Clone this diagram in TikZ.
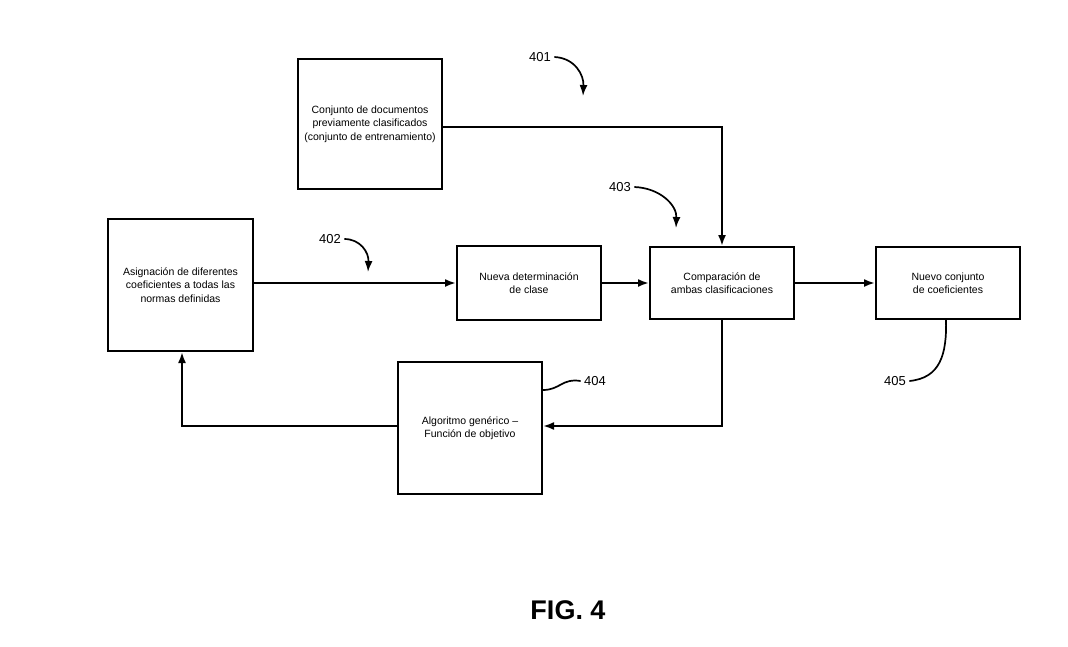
\documentclass[tikz,border=0pt]{standalone}
\usepackage{fontspec}
\setmainfont{Liberation Sans}
\usetikzlibrary{arrows.meta}
\begin{document}
\begin{tikzpicture}[x=1pt,y=-1pt,
  blk/.style={draw,line width=2pt,minimum width=144pt,align=center,font=\fontsize{10.5}{13.5}\selectfont,inner sep=0pt},
  conn/.style={line width=2pt,-{Latex[length=11pt,width=8pt]}},
  lead/.style={line width=1.7pt},
  ref/.style={font=\fontsize{13}{15}\selectfont}]
\useasboundingbox (0,0) rectangle (1068,646);
\node[blk,minimum height=130pt] (A) at (370,124) {Conjunto de documentos\\previamente clasificados\\(conjunto de entrenamiento)};
\node[blk,minimum height=132pt,minimum width=145pt] (B) at (180.5,285) {Asignación de diferentes\\coeficientes a todas las\\normas definidas};
\node[blk,minimum height=74pt] (C) at (529,283) {Nueva determinación\\de clase};
\node[blk,minimum height=72pt] (D) at (722,283) {Comparación de\\ambas clasificaciones};
\node[blk,minimum height=72pt] (E) at (948,283) {Nuevo conjunto\\de coeficientes};
\node[blk,minimum height=132pt] (F) at (470,428) {Algoritmo genérico –\\Función de objetivo};
\draw[conn] (A.east |- 0,127) -| (D.north);
\draw[conn] (B.east |- C.west) -- (C.west);
\draw[conn] (C.east) -- (D.west);
\draw[conn] (D.east) -- (E.west);
\draw[conn] (D.south) |- (F.east |- 0,426);
\draw[conn] (F.west |- 0,426) -| (B.south -| 182,0);
\node[ref] (r401) at (540,57) {401};
\node[ref] (r402) at (330,239) {402};
\node[ref] (r403) at (620,187) {403};
\node[ref] (r404) at (595,381) {404};
\node[ref] (r405) at (895,381) {405};
\draw[conn,line width=1.7pt] (r401.east) .. controls (575,58) and (584,75) .. (583,96);
\draw[conn,line width=1.7pt] (r402.east) .. controls (360,239) and (369,252) .. (368,272);
\draw[conn,line width=1.7pt] (r403.east) .. controls (660,188) and (677,205) .. (676,228);
\draw[lead] (F.east |- 0,390) .. controls (560,390) and (562,378) .. (r404.west);
\draw[lead] (r405.east) .. controls (940,378) and (947,355) .. (946,319);
\node[font=\bfseries\fontsize{27}{29}\selectfont] (fig) at (568,610) {FIG. 4};
\end{tikzpicture}
\end{document}
